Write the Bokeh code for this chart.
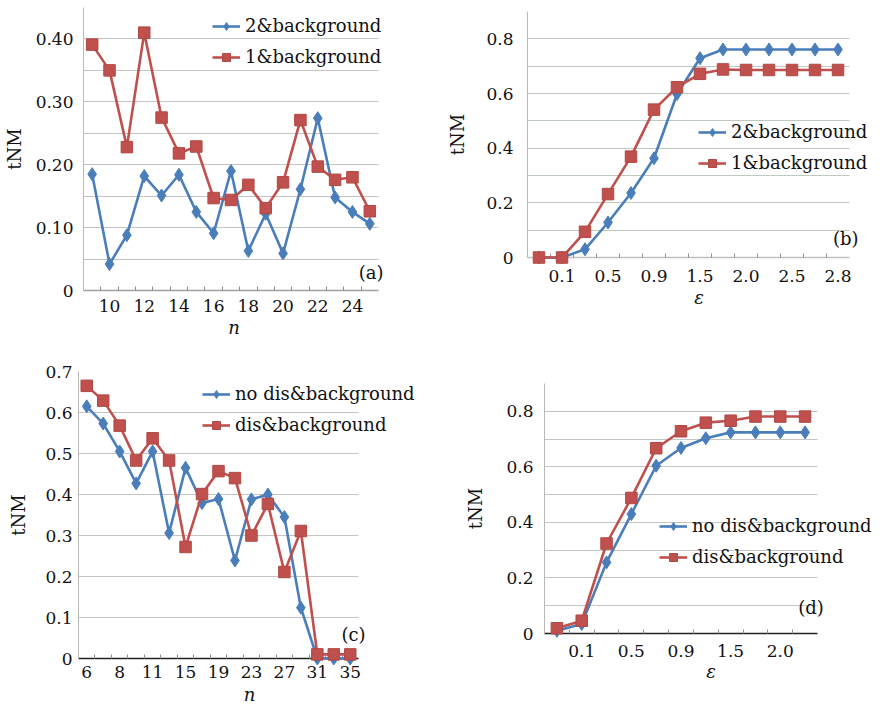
import numpy as np
from bokeh.plotting import figure
from bokeh.layouts import column, row
from bokeh.models import FixedTicker, Range1d, Legend, LegendItem, Label
from bokeh.embed import file_html
from bokeh.resources import INLINE

FONT = "DejaVu Serif"
BLUE = "#4A7EBB"
RED = "#C0504D"

# ---------------- data ----------------
# (a)
a_tick_labels = ["", "10", "", "12", "", "14", "", "16", "", "18", "", "20", "", "22", "", "24", ""]
a_two_bg = [0.185, 0.042, 0.088, 0.182, 0.151, 0.184, 0.125, 0.091, 0.190, 0.063,
            0.122, 0.059, 0.161, 0.274, 0.148, 0.125, 0.106]
a_one_bg = [0.391, 0.350, 0.228, 0.410, 0.275, 0.218, 0.229, 0.147, 0.144, 0.168,
            0.131, 0.172, 0.271, 0.197, 0.176, 0.180, 0.126]
a_series = ["2&background", "1&background"]

# (b)
b_tick_labels = ["", "0.1", "", "0.5", "", "0.9", "", "1.5", "", "2.0", "", "2.5", "", "2.8"]
b_two_bg = [0.0, 0.0, 0.030, 0.128, 0.236, 0.363, 0.598, 0.729, 0.761, 0.761, 0.761, 0.761, 0.761, 0.761]
b_one_bg = [0.0, 0.0, 0.094, 0.232, 0.369, 0.541, 0.623, 0.672, 0.688, 0.686, 0.686, 0.686, 0.686, 0.686]
b_series = ["2&background", "1&background"]

# (c)
c_tick_labels = ["6", "", "8", "", "11", "", "15", "", "19", "", "23", "", "27", "", "31", "", "35"]
c_no_dis = [0.615, 0.573, 0.505, 0.427, 0.505, 0.306, 0.465, 0.379, 0.389, 0.239,
            0.388, 0.400, 0.345, 0.124, 0.0, 0.0, 0.0]
c_dis = [0.665, 0.629, 0.568, 0.483, 0.537, 0.483, 0.272, 0.401, 0.457, 0.440,
         0.300, 0.377, 0.211, 0.311, 0.010, 0.010, 0.010]
c_series = ["no dis&background", "dis&background"]

# (d)
d_tick_labels = ["", "0.1", "", "0.5", "", "0.9", "", "1.5", "", "2.0", ""]
d_no_dis = [0.010, 0.034, 0.256, 0.430, 0.604, 0.668, 0.703, 0.724, 0.724, 0.724, 0.724]
d_dis = [0.019, 0.046, 0.324, 0.488, 0.667, 0.728, 0.759, 0.766, 0.781, 0.781, 0.781]
d_series = ["no dis&background", "dis&background"]


def panel(width, height, bl, br, bt, bb, cat_px, xlabels, ymax, ymajor, yminor, ylabels,
          xtitle, s1, s2, names, leg_xy, tag, tag_xy, ystand, xstand, ylab_stand,
          xlab_stand, xaxis_color, grid_color):
    ncat = len(xlabels)
    frame_w = width - bl - br
    x_end = ncat * frame_w / cat_px      # extra room on the right for the legend
    p = figure(width=width, height=height, output_backend="svg", toolbar_location=None,
               x_range=Range1d(0, x_end), y_range=Range1d(0, ymax),
               min_border_left=bl, min_border_right=br, min_border_top=bt, min_border_bottom=bb)
    try:
        p.frame_align = False
    except Exception:
        pass
    p.outline_line_color = None
    p.background_fill_color = "white"
    p.border_fill_color = "white"

    # x axis (category axis)
    centers = [i + 0.5 for i, lab in enumerate(xlabels) if lab]
    overrides = {i + 0.5: lab for i, lab in enumerate(xlabels) if lab}
    xt = FixedTicker(ticks=centers, minor_ticks=list(range(1, ncat)))
    p.xaxis.ticker = xt
    p.xaxis.bounds = (0, ncat)
    p.xaxis.major_label_overrides = overrides
    p.xaxis.major_tick_in = 0
    p.xaxis.major_tick_out = 0
    p.xaxis.minor_tick_in = 4
    p.xaxis.minor_tick_out = 0
    p.xaxis.minor_tick_line_color = "#909090"
    p.xaxis.axis_line_color = xaxis_color
    p.xaxis.axis_line_width = 1.3
    p.xaxis.major_label_text_font = FONT
    p.xaxis.major_label_text_font_size = "17px"
    p.xaxis.major_label_text_color = "#111111"
    p.xaxis.major_label_standoff = xstand
    p.xaxis.axis_label = xtitle
    p.xaxis.axis_label_text_font = FONT
    p.xaxis.axis_label_text_font_style = "italic"
    p.xaxis.axis_label_text_font_size = "18px"
    p.xaxis.axis_label_text_color = "#111111"
    p.xaxis.axis_label_standoff = xlab_stand
    p.xgrid.visible = False

    # y axis
    yt = FixedTicker(ticks=ymajor, minor_ticks=yminor)
    p.yaxis.ticker = yt
    p.ygrid.ticker = yt
    p.ygrid.cross_bounds = (0, ncat)
    p.yaxis.major_label_overrides = {t: l for t, l in zip(ymajor, ylabels)}
    p.yaxis.major_tick_in = 0
    p.yaxis.major_tick_out = 0
    p.yaxis.minor_tick_in = 0
    p.yaxis.minor_tick_out = 0
    p.yaxis.axis_line_color = "#b8b8b8"
    p.yaxis.major_label_text_font = FONT
    p.yaxis.major_label_text_font_size = "17px"
    p.yaxis.major_label_text_color = "#111111"
    p.yaxis.major_label_standoff = ystand
    p.yaxis.axis_label = "tNM"
    p.yaxis.axis_label_text_font = FONT
    p.yaxis.axis_label_text_font_style = "normal"
    p.yaxis.axis_label_text_font_size = "18px"
    p.yaxis.axis_label_text_color = "#111111"
    p.yaxis.axis_label_standoff = ylab_stand
    p.ygrid.grid_line_color = grid_color
    p.ygrid.minor_grid_line_color = grid_color

    xs = [i + 0.5 for i in range(ncat)]
    l1 = p.line(xs, s1, line_color=BLUE, line_width=2.6, level="overlay")
    m1 = p.scatter(xs, s1, marker="diamond", size=13,
                   fill_color=BLUE, line_color=BLUE, level="overlay")
    l2 = p.line(xs, s2, line_color=RED, line_width=2.6, level="overlay")
    m2 = p.scatter(xs, s2, marker="square", size=11.5,
                   fill_color=RED, line_color="#b04845", level="overlay")

    legend = Legend(items=[LegendItem(label=names[0], renderers=[l1, m1]),
                           LegendItem(label=names[1], renderers=[l2, m2])],
                    location=leg_xy)
    legend.background_fill_alpha = 0
    legend.border_line_color = None
    legend.padding = 0
    legend.margin = 0
    legend.spacing = 10
    legend.glyph_width = 28
    legend.glyph_height = 20
    legend.label_height = 20
    legend.label_standoff = 5
    legend.label_text_font = FONT
    legend.label_text_font_size = "18px"
    legend.label_text_color = "#111111"
    legend.label_text_baseline = "middle"
    p.add_layout(legend)

    p.add_layout(Label(x=tag_xy[0], y=tag_xy[1], text=tag, text_align="right",
                       text_baseline="middle", text_font=FONT, text_font_size="18px",
                       text_color="#111111"))
    return p


pa = panel(440, 340, 83, 56, 7, 50, 295, a_tick_labels, 0.45,
           [0, 0.1, 0.2, 0.3, 0.4], [0.05, 0.15, 0.25, 0.35, 0.45],
           ["0", "0.10", "0.20", "0.30", "0.40"], "n", a_two_bg, a_one_bg, a_series,
           (129, 223), "(a)", (17.29, 0.029), 10, 9, 8, 2, "#a0a0a0", "#c4c4c4")

pb = panel(438, 340, 87, 8, 11, 83, 322, b_tick_labels, 0.9,
           [0, 0.2, 0.4, 0.6, 0.8], [0.1, 0.3, 0.5, 0.7],
           ["0", "0.2", "0.4", "0.6", "0.8"], "ε", b_two_bg, b_one_bg, b_series,
           (171, 84), "(b)", (14.39, 0.07), 14, 12, 15, 2, "#c0c0c0", "#bdcabd")

pc = panel(440, 368, 78, 20, 31, 50, 280, c_tick_labels, 0.7,
           [0, 0.1, 0.2, 0.3, 0.4, 0.5, 0.6, 0.7], [],
           ["0", "0.1", "0.2", "0.3", "0.4", "0.5", "0.6", "0.7"], "n", c_no_dis, c_dis, c_series,
           (124, 223), "(c)", (17.43, 0.058), 6, 7, 13, 3, "#202020", "#c4c4c4")

pd_ = panel(438, 368, 104, 1, 43, 75, 273, d_tick_labels, 0.9,
            [0, 0.2, 0.4, 0.6, 0.8], [0.1, 0.3, 0.5, 0.7, 0.9],
            ["0", "0.2", "0.4", "0.6", "0.8"], "ε", d_no_dis, d_dis, d_series,
            (115, 66), "(d)", (11.25, 0.094), 11, 11, 17, 1, "#202020", "#c4c4c4")

layout = column(row(pa, pb), row(pc, pd_))
open("out.html", "w").write(file_html(layout, INLINE))
